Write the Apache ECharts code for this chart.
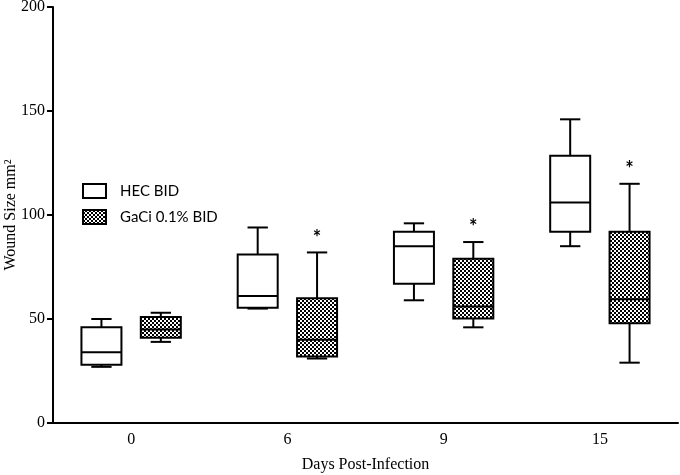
<!DOCTYPE html>
<html>
<head>
<meta charset="utf-8">
<script src="https://cdn.jsdelivr.net/npm/echarts@6/dist/echarts.min.js"></script>
<style>html,body{margin:0;padding:0;background:#fff}#c{width:680px;height:475px}</style>
</head>
<body>
<div id="c"></div>
<script>
// Categories (days post-infection)
var categories = ['0', '6', '9', '15'];
// Box values: [min, Q1, median, Q3, max]
var hecBox = [
  [27, 28, 34, 46, 50],
  [55, 55.4, 61, 81, 94],
  [59, 67, 85, 92, 96],
  [85, 92, 106, 128.5, 146]
];
var gaciBox = [
  [39, 41, 45, 51, 53],
  [31, 32, 40, 60, 82],
  [46, 50.3, 56, 79, 87],
  [29, 48, 59.5, 92, 115]
];
var gaciSig = ['', '*', '*', '*'];
var seriesNames = ['HEC BID', 'GaCi 0.1% BID'];
var yTicks = [0, 50, 100, 150, 200];

// checkerboard pattern
var cv = document.createElement('canvas');
cv.width = 4; cv.height = 4;
var cx = cv.getContext('2d');
cx.fillStyle = '#000'; cx.fillRect(0, 0, 4, 4);
cx.fillStyle = '#fff'; cx.fillRect(0, 0, 2, 2); cx.fillRect(2, 2, 2, 2);
var checker = {image: cv, repeat: 'repeat'};

function makeRender(offsetFrac, fill, sig) {
  return function (params, api) {
    var idx = api.value(0);
    var band = api.size([1, 0])[0];
    var cxp = api.coord([idx, 0])[0] + band * offsetFrac;
    var bw = band * 0.256, cw = band * 0.13;
    var yMin = api.coord([idx, api.value(1)])[1];
    var yQ1 = api.coord([idx, api.value(2)])[1];
    var yMed = api.coord([idx, api.value(3)])[1];
    var yQ3 = api.coord([idx, api.value(4)])[1];
    var yMax = api.coord([idx, api.value(5)])[1];
    var ls = {stroke: '#000', lineWidth: 2};
    var children = [
      {type: 'line', shape: {x1: cxp, y1: yMax, x2: cxp, y2: yQ3}, style: ls},
      {type: 'line', shape: {x1: cxp, y1: yQ1, x2: cxp, y2: yMin}, style: ls},
      {type: 'line', shape: {x1: cxp - cw / 2, y1: yMax, x2: cxp + cw / 2, y2: yMax}, style: ls},
      {type: 'line', shape: {x1: cxp - cw / 2, y1: yMin, x2: cxp + cw / 2, y2: yMin}, style: ls},
      {type: 'rect', shape: {x: cxp - bw / 2, y: yQ3, width: bw, height: yQ1 - yQ3}, style: {fill: fill, stroke: '#000', lineWidth: 2}},
      {type: 'line', shape: {x1: cxp - bw / 2, y1: yMed, x2: cxp + bw / 2, y2: yMed}, style: ls}
    ];
    if (sig && sig[idx]) {
      children.push({type: 'text', style: {text: sig[idx], x: cxp, y: yMax - 14, align: 'center', verticalAlign: 'middle', fontSize: 20, fontWeight: 'bold', fontFamily: 'Lato', fill: '#000'}});
    }
    return {type: 'group', children: children};
  };
}

function toData(arr) {
  return arr.map(function (b, i) { return [i].concat(b); });
}

var chart = echarts.init(document.getElementById('c'));
chart.setOption({
  animation: false,
  grid: {left: 53, right: 2, top: 7, bottom: 52, containLabel: false, outerBoundsMode: 'none'},
  legend: {
    orient: 'vertical', left: 82, top: 183, padding: 0, itemWidth: 23, itemHeight: 14, itemGap: 10,
    textStyle: {fontFamily: 'Lato', fontSize: 15, color: '#000', padding: [0, 0, 0, 9]},
    data: [
      {name: seriesNames[0], icon: 'rect', itemStyle: {color: '#fff', borderColor: '#000', borderWidth: 2}},
      {name: seriesNames[1], icon: 'rect', itemStyle: {color: checker, borderColor: '#000', borderWidth: 2}}
    ]
  },
  xAxis: {
    type: 'category', data: categories, boundaryGap: true,
    name: 'Days Post-Infection', nameLocation: 'middle', nameGap: 34,
    nameTextStyle: {fontFamily: 'Liberation Serif', fontSize: 16, color: '#000'},
    axisLine: {lineStyle: {color: '#000', width: 2}},
    axisTick: {alignWithLabel: true, length: 6, lineStyle: {color: '#000', width: 2}},
    axisLabel: {fontFamily: 'Liberation Serif', fontSize: 16, color: '#000', margin: 9}
  },
  yAxis: {
    type: 'value', min: yTicks[0], max: yTicks[yTicks.length - 1], interval: 50,
    name: 'Wound Size mm²', nameLocation: 'middle', nameGap: 34, nameMoveOverlap: false,
    nameTextStyle: {fontFamily: 'Liberation Serif', fontSize: 16, color: '#000'},
    splitLine: {show: false},
    axisLine: {show: true, lineStyle: {color: '#000', width: 2}},
    axisTick: {show: true, length: 6, lineStyle: {color: '#000', width: 2}},
    axisLabel: {fontFamily: 'Liberation Serif', fontSize: 16, color: '#000', margin: 8}
  },
  series: [
    {name: seriesNames[0], type: 'custom', data: toData(hecBox), encode: {x: 0, y: [1, 2, 3, 4, 5]},
     itemStyle: {color: '#fff', borderColor: '#000'}, renderItem: makeRender(-0.19, '#fff', null)},
    {name: seriesNames[1], type: 'custom', data: toData(gaciBox), encode: {x: 0, y: [1, 2, 3, 4, 5]},
     itemStyle: {color: checker, borderColor: '#000'}, renderItem: makeRender(0.19, checker, gaciSig)}
  ]
});
</script>
</body>
</html>
